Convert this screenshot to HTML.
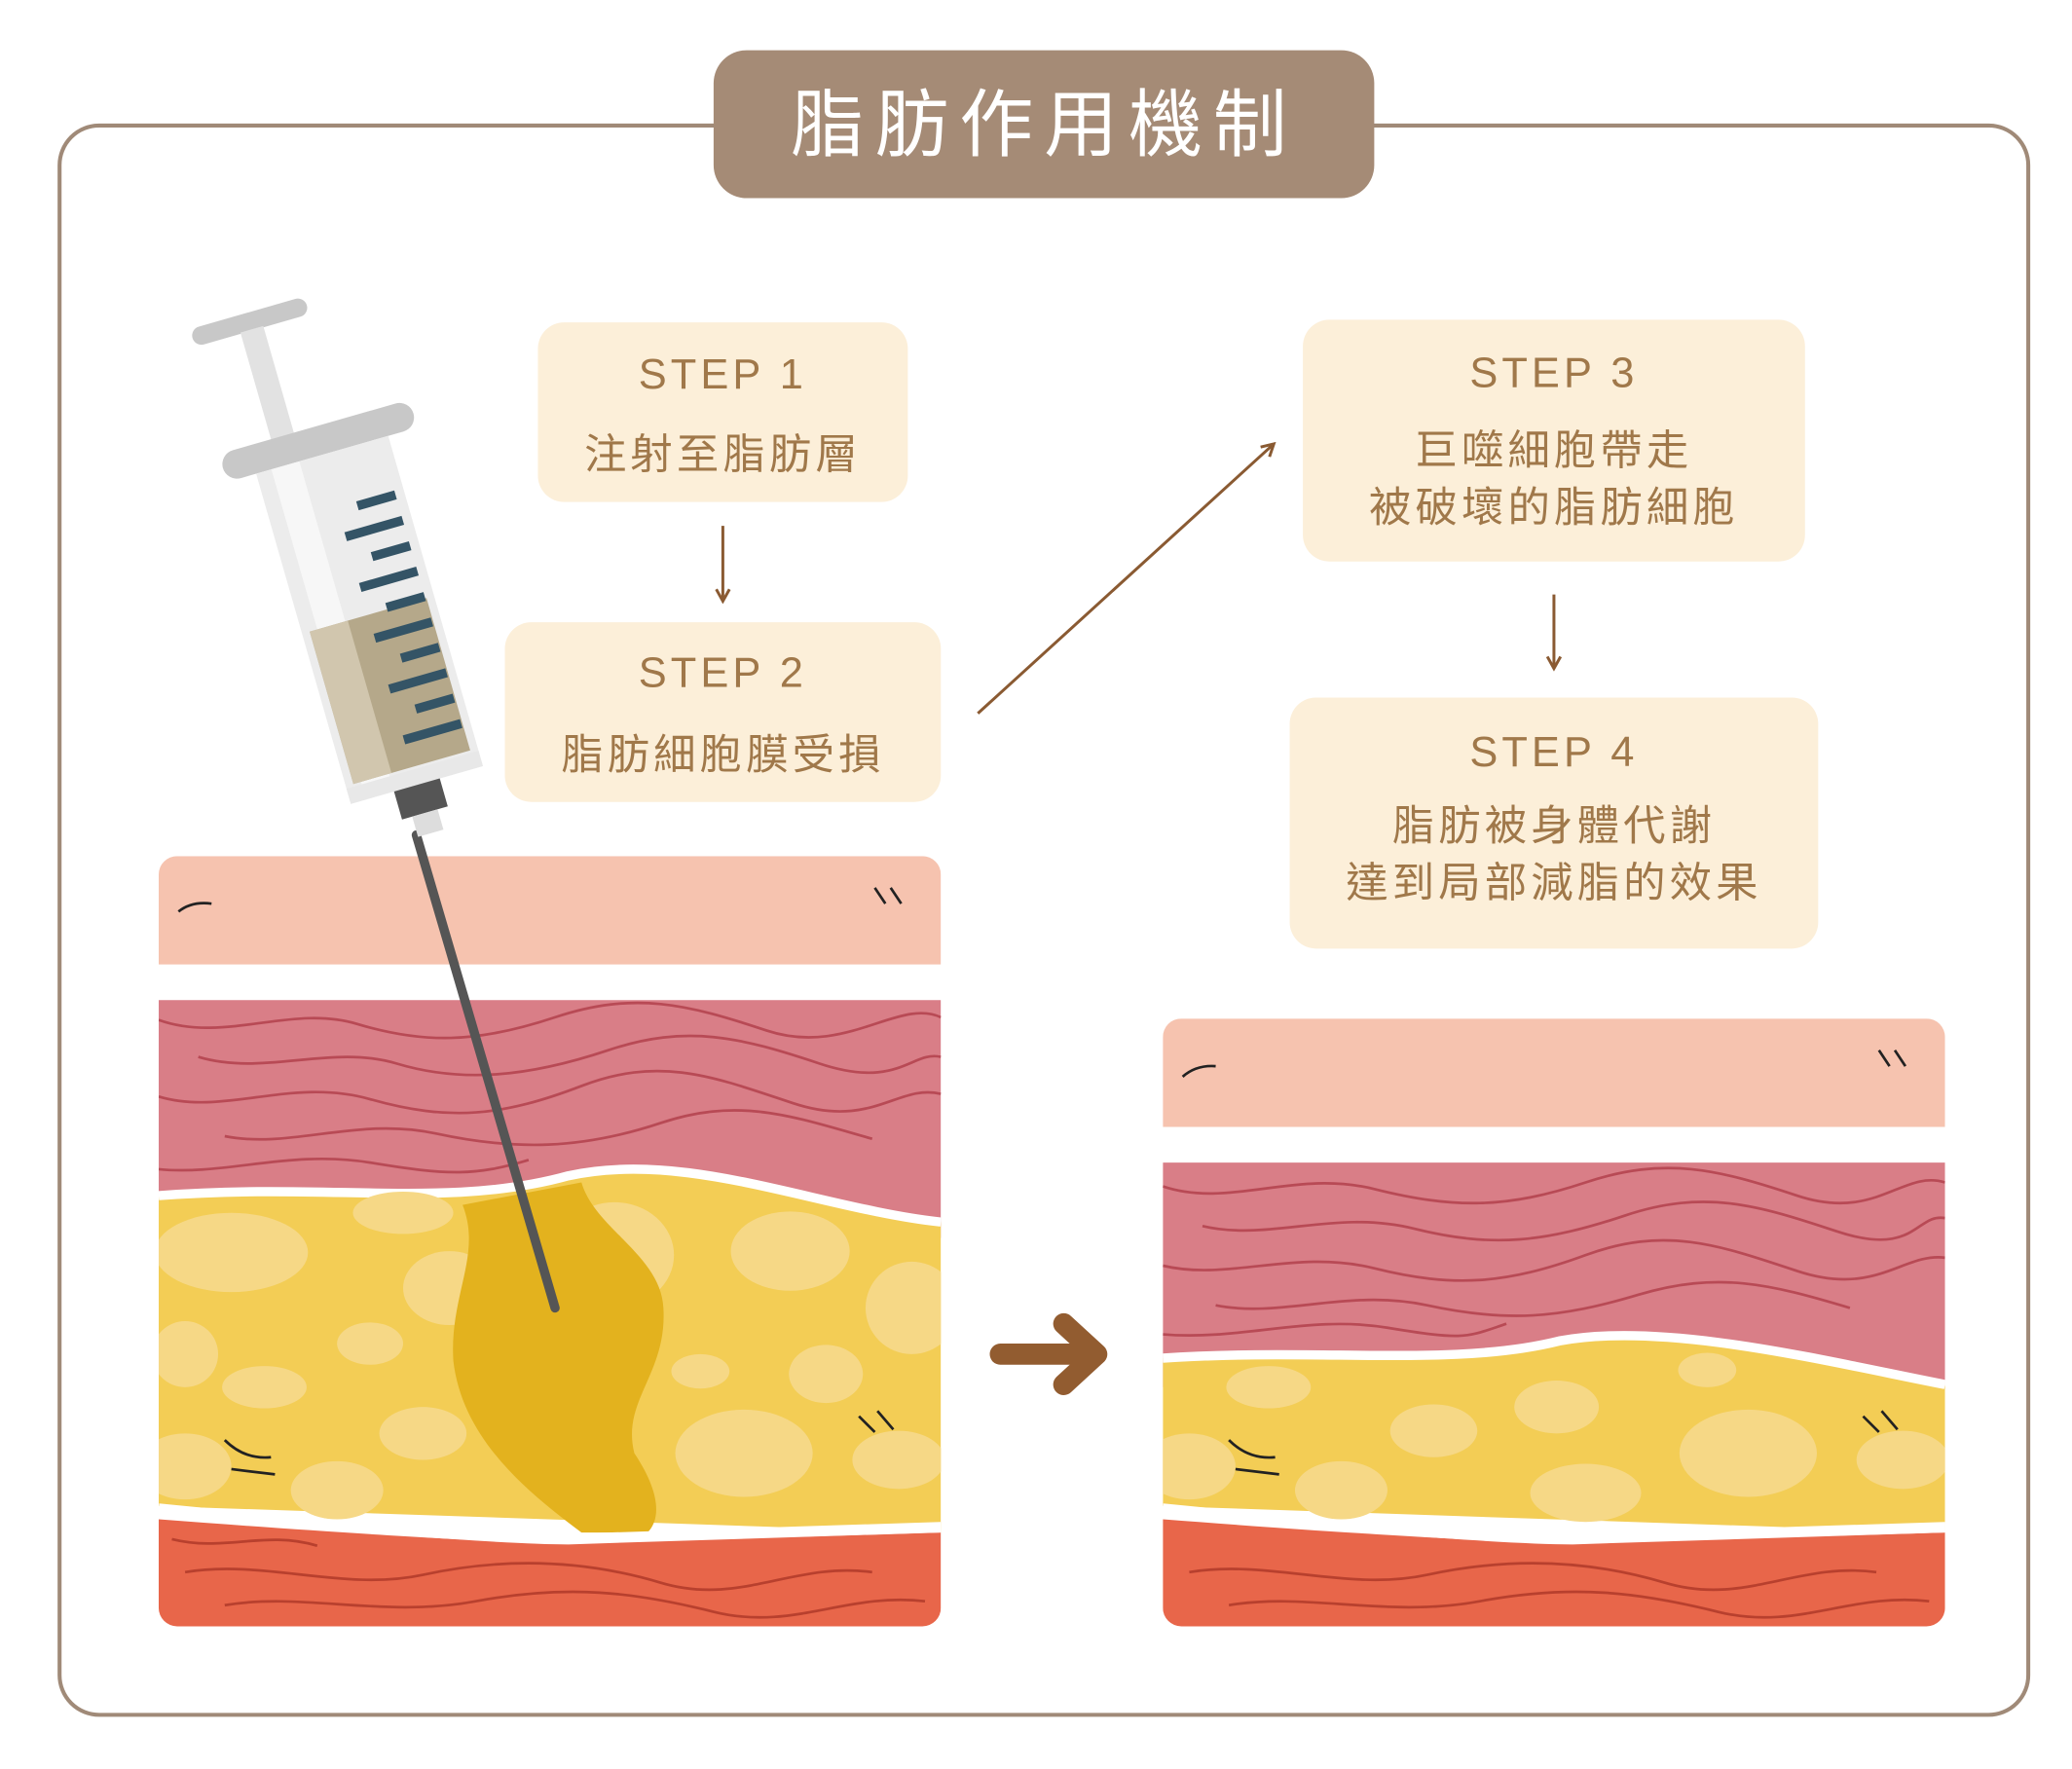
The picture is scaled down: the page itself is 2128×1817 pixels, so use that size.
<!DOCTYPE html>
<html><head><meta charset="utf-8"><style>
html,body{margin:0;padding:0;background:#fff}
svg{display:block}
text{font-family:"Liberation Sans","Noto Sans CJK TC",sans-serif}
</style></head><body>
<svg width="2128" height="1817" viewBox="0 0 1568 1339" xmlns="http://www.w3.org/2000/svg">
<defs>
<marker id="ah" markerWidth="12" markerHeight="12" refX="10" refY="6" orient="auto" markerUnits="userSpaceOnUse">
<path d="M1,1 L10,6 L1,11" fill="none" stroke="#8a5a32" stroke-width="2.2"/></marker>
<clipPath id="cl"><rect x="120" y="648" width="592" height="583" rx="14"/></clipPath>
<clipPath id="cr"><rect x="880" y="771" width="592" height="460" rx="14"/></clipPath>
</defs>
<rect x="45" y="95" width="1490" height="1203" rx="30" fill="none" stroke="#a08a78" stroke-width="3"/>
<rect x="540" y="38" width="500" height="112" rx="25" fill="#a58b76"/>
<text x="790" y="114" font-size="56" fill="#fff" text-anchor="middle" letter-spacing="8">脂肪作用機制</text>

<g fill="#fcefd9">
<rect x="407" y="244" width="280" height="136" rx="20"/>
<rect x="382" y="471" width="330" height="136" rx="20"/>
<rect x="986" y="242" width="380" height="183" rx="20"/>
<rect x="976" y="528" width="400" height="190" rx="20"/>
</g>
<g fill="#a0784a" text-anchor="middle" font-size="32" letter-spacing="3">
<text x="547" y="294">STEP 1</text>
<text x="547" y="355">注射至脂肪層</text>
<text x="547" y="520">STEP 2</text>
<text x="547" y="582">脂肪細胞膜受損</text>
<text x="1176" y="293">STEP 3</text>
<text x="1176" y="352">巨噬細胞帶走</text>
<text x="1176" y="395">被破壞的脂肪細胞</text>
<text x="1176" y="580">STEP 4</text>
<text x="1176" y="636">脂肪被身體代謝</text>
<text x="1176" y="679">達到局部減脂的效果</text>
</g>
<g stroke="#8a5a32" stroke-width="2.2" fill="none" marker-end="url(#ah)">
<line x1="547" y1="398" x2="547" y2="455"/>
<line x1="1176" y1="450" x2="1176" y2="506"/>
<line x1="740" y1="540" x2="964" y2="336"/>
</g>

<!-- left tissue -->
<g clip-path="url(#cl)">
<rect x="120" y="648" width="592" height="82" fill="#f6c3af"/>
<rect x="120" y="757" width="592" height="180" fill="#d97e87"/>
<g stroke="#b84a55" stroke-width="2" fill="none">
<path d="M120,772 C170,790 220,760 270,775 S360,790 420,770 S520,760 580,780 S680,755 712,770"/>
<path d="M150,800 C200,815 250,790 300,805 S400,815 460,795 S560,785 620,805 S690,795 712,800"/>
<path d="M120,830 C170,845 220,815 280,832 S380,845 440,822 S540,815 600,835 S680,820 712,828"/>
<path d="M170,860 C220,870 270,845 330,858 S440,870 500,850 S600,845 660,862"/>
<path d="M120,885 C170,890 220,870 280,880 S360,890 400,878"/>
</g>
<path d="M120,905 C250,895 340,915 430,890 C520,870 620,915 712,925 L712,1160 L120,1140 Z" fill="#f3cd55"/>
<path d="M120,905 C250,895 340,915 430,890 C520,870 620,915 712,925" fill="none" stroke="#fff" stroke-width="7"/>
<g fill="#f6d886">
<ellipse cx="175" cy="948" rx="58" ry="30"/><ellipse cx="305" cy="918" rx="38" ry="16"/>
<ellipse cx="340" cy="975" rx="35" ry="28"/><ellipse cx="280" cy="1017" rx="25" ry="16"/>
<ellipse cx="140" cy="1025" rx="25" ry="25"/><ellipse cx="200" cy="1050" rx="32" ry="16"/>
<ellipse cx="320" cy="1085" rx="33" ry="20"/><ellipse cx="140" cy="1110" rx="35" ry="25"/>
<ellipse cx="255" cy="1128" rx="35" ry="22"/><ellipse cx="598" cy="947" rx="45" ry="30"/>
<ellipse cx="690" cy="990" rx="35" ry="35"/><ellipse cx="625" cy="1040" rx="28" ry="22"/>
<ellipse cx="530" cy="1038" rx="22" ry="13"/><ellipse cx="563" cy="1100" rx="52" ry="33"/>
<ellipse cx="680" cy="1105" rx="35" ry="22"/><ellipse cx="465" cy="950" rx="45" ry="40"/>
</g>
<path d="M350,912 L440,895 C450,930 500,950 502,990 C505,1040 470,1060 480,1100 C500,1130 500,1150 490,1160 L440,1160 C400,1130 350,1090 343,1030 C340,980 365,950 350,912 Z" fill="#e3b21e"/>
<path d="M120,1150 C250,1160 380,1168 430,1168 C550,1165 640,1162 712,1160 L712,1231 L120,1231 Z" fill="#e8664a"/>
<path d="M120,1142 C250,1155 380,1165 430,1165 C550,1162 640,1158 712,1156" fill="none" stroke="#fff" stroke-width="8"/>
<g stroke="#b8402e" stroke-width="2" fill="none">
<path d="M140,1190 C200,1180 260,1205 320,1192 S440,1180 500,1198 S600,1182 660,1190"/>
<path d="M170,1215 C230,1205 290,1225 360,1212 S480,1205 540,1220 S640,1205 700,1212"/>
<path d="M130,1165 C170,1175 200,1158 240,1170"/>
</g>
<g stroke="#222" stroke-width="2" fill="none">
<path d="M135,690 Q145,682 160,684"/><path d="M662,672 L670,684 M674,672 L682,684"/>
<path d="M170,1090 Q185,1105 205,1103 M175,1112 L208,1116"/><path d="M650,1072 L662,1084 M664,1068 L676,1082"/>
</g>
</g>

<!-- right tissue -->
<g clip-path="url(#cr)">
<rect x="880" y="771" width="592" height="82" fill="#f6c3af"/>
<rect x="880" y="880" width="592" height="170" fill="#d97e87"/>
<g stroke="#b84a55" stroke-width="2" fill="none">
<path d="M880,898 C930,915 980,885 1040,900 S1140,915 1200,895 S1300,885 1360,905 S1440,885 1472,895"/>
<path d="M910,928 C960,940 1010,915 1070,930 S1170,940 1230,920 S1330,912 1390,932 S1450,918 1472,922"/>
<path d="M880,958 C930,970 980,945 1040,960 S1140,972 1200,950 S1300,942 1360,962 S1440,948 1472,952"/>
<path d="M920,988 C970,998 1020,975 1080,988 S1180,998 1240,980 S1340,972 1400,990"/>
<path d="M880,1010 C940,1015 990,995 1050,1005 S1110,1012 1140,1002"/>
</g>
<path d="M880,1028 C1000,1020 1100,1035 1180,1015 C1260,1000 1380,1030 1472,1048 L1472,1160 L880,1140 Z" fill="#f3cd55"/>
<path d="M880,1028 C1000,1020 1100,1035 1180,1015 C1260,1000 1380,1030 1472,1048" fill="none" stroke="#fff" stroke-width="7"/>
<g fill="#f6d886">
<ellipse cx="960" cy="1050" rx="32" ry="16"/><ellipse cx="1085" cy="1083" rx="33" ry="20"/>
<ellipse cx="1178" cy="1065" rx="32" ry="20"/><ellipse cx="1292" cy="1037" rx="22" ry="13"/>
<ellipse cx="900" cy="1110" rx="35" ry="25"/><ellipse cx="1015" cy="1128" rx="35" ry="22"/>
<ellipse cx="1200" cy="1130" rx="42" ry="22"/><ellipse cx="1323" cy="1100" rx="52" ry="33"/>
<ellipse cx="1440" cy="1105" rx="35" ry="22"/>
</g>
<path d="M880,1150 C1010,1160 1140,1168 1190,1168 C1310,1165 1400,1162 1472,1160 L1472,1231 L880,1231 Z" fill="#e8664a"/>
<path d="M880,1142 C1010,1155 1140,1165 1190,1165 C1310,1162 1400,1158 1472,1156" fill="none" stroke="#fff" stroke-width="8"/>
<g stroke="#b8402e" stroke-width="2" fill="none">
<path d="M900,1190 C960,1180 1020,1205 1080,1192 S1200,1180 1260,1198 S1360,1182 1420,1190"/>
<path d="M930,1215 C990,1205 1050,1225 1120,1212 S1240,1205 1300,1220 S1400,1205 1460,1212"/>
</g>
<g stroke="#222" stroke-width="2" fill="none">
<path d="M895,815 Q905,806 920,807"/><path d="M1422,795 L1430,807 M1434,795 L1442,807"/>
<path d="M930,1090 Q945,1105 965,1103 M935,1112 L968,1116"/><path d="M1410,1072 L1422,1084 M1424,1068 L1436,1082"/>
</g>
</g>

<!-- big arrow -->
<g stroke="#925c30" stroke-width="16" stroke-linecap="round" stroke-linejoin="round" fill="none">
<line x1="757" y1="1025" x2="825" y2="1025"/><path d="M805,1002 L830,1025 L805,1048"/>
</g>

<!-- syringe -->
<line x1="315" y1="632" x2="420" y2="990" stroke="#555" stroke-width="7" stroke-linecap="round"/>
<g transform="translate(32,-22) rotate(-16 300 420)">
<rect x="160" y="225" width="90" height="14" rx="7" fill="#c8c8c8"/>
<rect x="196" y="238" width="18" height="90" fill="#e2e2e2"/>
<rect x="155" y="322" width="150" height="22" rx="11" fill="#c8c8c8"/>
<rect x="178" y="344" width="104" height="260" fill="#ececec"/>
<rect x="190" y="344" width="22" height="260" fill="#f7f7f7"/>
<rect x="184" y="470" width="92" height="120" fill="#b5a88a"/>
<rect x="184" y="470" width="30" height="120" fill="#d1c6ae"/>
<rect x="178" y="592" width="104" height="12" fill="#e8e8e8"/>
<rect x="212" y="604" width="36" height="22" fill="#555"/>
<rect x="220" y="626" width="20" height="16" fill="#ddd"/>
<g fill="#345466">
<rect x="245" y="385" width="30" height="7"/><rect x="230" y="405" width="45" height="7"/>
<rect x="245" y="425" width="30" height="7"/><rect x="230" y="445" width="45" height="7"/>
<rect x="245" y="465" width="30" height="7"/><rect x="230" y="485" width="45" height="7"/>
<rect x="245" y="505" width="30" height="7"/><rect x="230" y="525" width="45" height="7"/>
<rect x="245" y="545" width="30" height="7"/><rect x="230" y="565" width="45" height="7"/>
</g>
</g>
</svg>
</body></html>
